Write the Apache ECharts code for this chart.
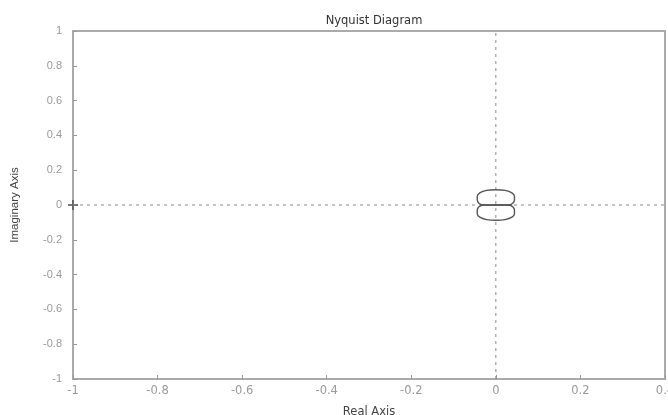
<!DOCTYPE html>
<html><head><meta charset="utf-8">
<script src="https://cdn.jsdelivr.net/npm/echarts@6/dist/echarts.min.js"></script>
<style>html,body{margin:0;padding:0;background:#fff}#c{width:668px;height:415px}</style>
</head><body><div id="c"></div>
<script>
const title = "Nyquist Diagram";
const xName = "Real Axis";
const yName = "Imaginary Axis";
const xRange = [-1, 0.4];
const yRange = [-1, 1];
const tickStep = 0.2;
// Upper lobe of the Nyquist curve [re, im]
const upperLobe = [
  [0, 0], [0.03, 0], [0.04, 0.01], [0.044, 0.03], [0.044, 0.05], [0.038, 0.07],
  [0.022, 0.084], [0, 0.088], [-0.022, 0.084], [-0.038, 0.07], [-0.044, 0.05],
  [-0.044, 0.03], [-0.04, 0.01], [-0.03, 0], [0, 0]
];
// Lower lobe (mirror image)
const lowerLobe = [
  [0, 0], [0.03, 0], [0.04, -0.01], [0.044, -0.03], [0.044, -0.05], [0.038, -0.07],
  [0.022, -0.084], [0, -0.088], [-0.022, -0.084], [-0.038, -0.07], [-0.044, -0.05],
  [-0.044, -0.03], [-0.04, -0.01], [-0.03, 0], [0, 0]
];
const realAxisLine = [[-1, 0], [0.4, 0]];
const imagAxisLine = [[0, -1], [0, 1]];
const criticalPoint = [[-1, 0]];

const chart = echarts.init(document.getElementById('c'));
const font = 'Liberation Sans, Arial, sans-serif';
const wide = 'DejaVu Sans, sans-serif';
const axisCommon = {
  type: 'value',
  interval: tickStep,
  splitLine: { show: false },
  axisLine: { show: true, onZero: false, lineStyle: { color: '#aaa', width: 2 } },
  axisTick: { show: true, inside: true, length: 4, lineStyle: { color: '#999', width: 1 } },
  axisLabel: { color: '#999', fontSize: 11, fontFamily: font },
  nameTextStyle: { color: '#444', fontSize: 11, fontFamily: font }
};
chart.setOption({
  animation: false,
  title: { text: title, left: 369, top: 10, textAlign: 'center',
    textStyle: { color: '#333', fontSize: 11.5, fontWeight: 'normal', fontFamily: wide } },
  grid: { left: 73, right: 3, top: 31, bottom: 36, show: true, borderColor: '#aaa', borderWidth: 2,
    outerBoundsMode: 'none', containLabel: false },
  xAxis: Object.assign({}, axisCommon, {
    min: xRange[0], max: xRange[1],
    name: xName, nameLocation: 'middle', nameGap: 27,
    nameTextStyle: { color: '#444', fontSize: 11.5, fontFamily: wide },
    axisLabel: { color: '#999', fontSize: 11.5, fontFamily: wide, margin: 6 }
  }),
  yAxis: Object.assign({}, axisCommon, {
    min: yRange[0], max: yRange[1],
    name: yName, nameLocation: 'middle', nameGap: 52, nameRotate: 90,
    nameTextStyle: { color: '#444', fontSize: 11.5, fontFamily: font },
    axisLabel: Object.assign({}, axisCommon.axisLabel, { margin: 11 })
  }),
  series: [
    { type: 'line', data: realAxisLine, symbol: 'none', silent: true,
      lineStyle: { color: '#888', width: 1, type: [3, 4] } },
    { type: 'line', data: imagAxisLine, symbol: 'none', silent: true,
      lineStyle: { color: '#888', width: 1, type: [3, 4] } },
    { type: 'line', data: upperLobe, symbol: 'none', smooth: 0.35,
      lineStyle: { color: '#555', width: 1.4 } },
    { type: 'line', data: lowerLobe, symbol: 'none', smooth: 0.35,
      lineStyle: { color: '#555', width: 1.4 } },
    { type: 'scatter', data: criticalPoint, symbol: 'path://M4,0h2v4h4v2h-4v4h-2v-4h-4v-2h4z',
      symbolSize: 10, itemStyle: { color: '#555' } }
  ]
});
</script></body></html>
